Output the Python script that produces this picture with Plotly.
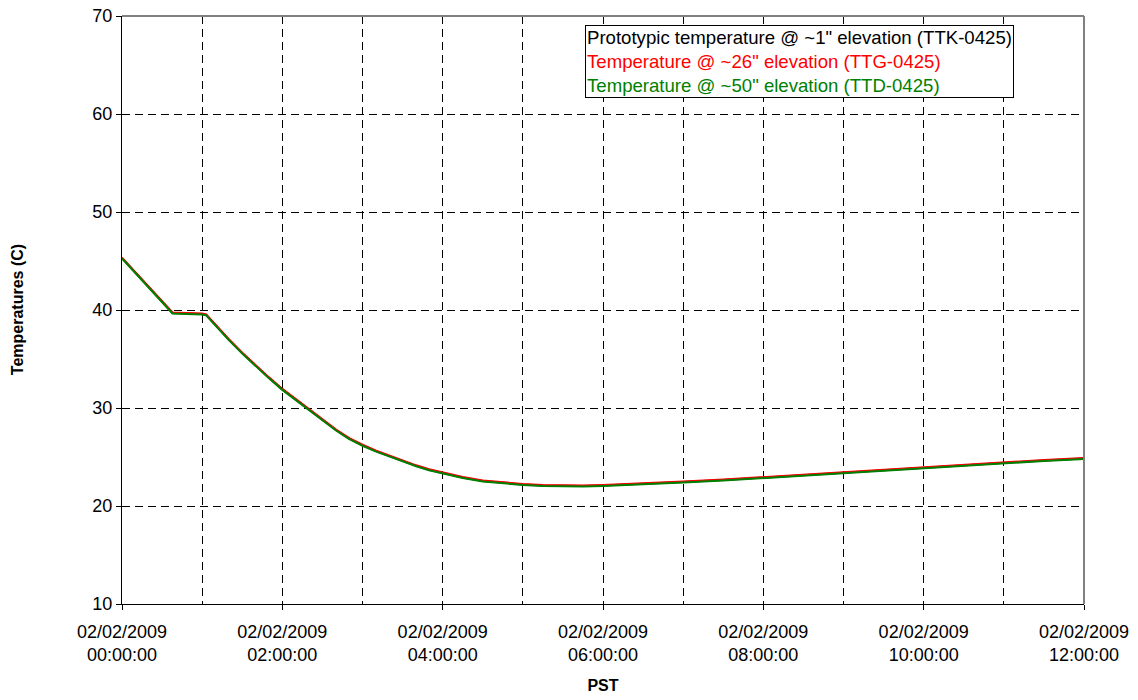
import plotly.graph_objects as go

# Sample times (hours after 02/02/2009 00:00:00 PST)
hours = [0.0, 0.1, 0.2, 0.3, 0.4, 0.5, 0.63, 0.8, 1.0, 1.05, 1.17, 1.33, 1.5,
         1.67, 1.83, 2.0, 2.17, 2.33, 2.5, 2.67, 2.83, 3.0, 3.17, 3.33, 3.5,
         3.67, 3.83, 4.0, 4.25, 4.5, 4.75, 5.0, 5.25, 5.5, 5.75, 6.0, 6.5,
         7.0, 7.5, 8.0, 8.5, 9.0, 9.5, 10.0, 10.5, 11.0, 11.5, 12.0]

# TTK-0425, ~1" elevation
ttk = [45.3, 44.4, 43.5, 42.6, 41.7, 40.8, 39.7, 39.65, 39.6, 39.5, 38.4, 37.0,
       35.6, 34.3, 33.1, 31.9, 30.85, 29.8, 28.75, 27.75, 26.9, 26.2, 25.6,
       25.1, 24.6, 24.1, 23.7, 23.35, 22.9, 22.55, 22.35, 22.2, 22.1, 22.05,
       22.05, 22.1, 22.25, 22.45, 22.65, 22.9, 23.15, 23.4, 23.7, 23.95, 24.2,
       24.45, 24.65, 24.85]

# TTG-0425, ~26" elevation
ttg = [45.35, 44.45, 43.55, 42.65, 41.75, 40.85, 39.75, 39.7, 39.65, 39.55,
       38.45, 37.05, 35.65, 34.35, 33.15, 31.95, 30.9, 29.85, 28.8, 27.8,
       26.95, 26.25, 25.65, 25.15, 24.65, 24.15, 23.75, 23.4, 22.95, 22.6,
       22.4, 22.25, 22.15, 22.1, 22.1, 22.15, 22.3, 22.5, 22.7, 22.95, 23.2,
       23.45, 23.75, 24.0, 24.25, 24.5, 24.7, 24.9]

# TTD-0425, ~50" elevation
ttd = [45.25, 44.35, 43.45, 42.55, 41.65, 40.75, 39.65, 39.6, 39.55, 39.45,
       38.35, 36.95, 35.55, 34.25, 33.05, 31.85, 30.8, 29.75, 28.7, 27.7,
       26.85, 26.15, 25.55, 25.05, 24.55, 24.05, 23.65, 23.3, 22.85, 22.5,
       22.3, 22.15, 22.05, 22.0, 22.0, 22.05, 22.2, 22.4, 22.6, 22.85, 23.1,
       23.35, 23.65, 23.9, 24.15, 24.4, 24.6, 24.8]

tick_hours = [0, 2, 4, 6, 8, 10, 12]


def stamp(h):
    total = int(round(h * 3600))
    hh, rem = divmod(total, 3600)
    mm, ss = divmod(rem, 60)
    return f"2009-02-02 {hh:02d}:{mm:02d}:{ss:02d}"


times = [stamp(h) for h in hours]
tick_vals = [stamp(h) for h in tick_hours]
tick_text = [f"02/02/2009<br>{h:02d}:00:00" for h in tick_hours]

series = [
    ("Prototypic temperature @ ~1\" elevation (TTK-0425)", ttk, "#000000"),
    ("Temperature @ ~26\" elevation (TTG-0425)", ttg, "#FF0000"),
    ("Temperature @ ~50\" elevation (TTD-0425)", ttd, "#008000"),
]

FONT = "Liberation Sans, Arial, sans-serif"

fig = go.Figure()
for name, vals, color in series:
    fig.add_trace(go.Scatter(x=times, y=vals, mode="lines", name=name,
                             line=dict(color=color, width=2),
                             showlegend=False))

# Boxed key with coloured series names
legend_html = "<br>".join(
    f"<span style='color:{c}'>{n}</span>" for n, _, c in series)
fig.add_annotation(
    xref="paper", yref="paper", x=0.4813, y=0.985,
    xanchor="left", yanchor="top", align="left",
    text=legend_html, showarrow=False,
    font=dict(family=FONT, size=18.6, color="#000000"),
    bordercolor="#000000", borderwidth=1, bgcolor="#FFFFFF", borderpad=1,
)

# Vertical axis title
fig.add_annotation(
    xref="paper", yref="paper", x=-0.109, y=0.5,
    xanchor="center", yanchor="middle", textangle=-90,
    text="<b>Temperatures (C)</b>", showarrow=False,
    font=dict(family=FONT, size=16, color="#000000"),
)

dash = "8px,5px"

fig.update_layout(
    width=1138, height=700,
    margin=dict(l=122, r=54, t=16, b=96),
    paper_bgcolor="#FFFFFF", plot_bgcolor="#FFFFFF",
    font=dict(family=FONT, size=18, color="#000000"),
    xaxis=dict(
        type="date",
        range=[stamp(0), stamp(12)],
        tickvals=tick_vals, ticktext=tick_text,
        ticks="outside", ticklen=5, tickcolor="#000000",
        ticklabelstandoff=6,
        showline=True, linecolor="#000000", linewidth=1, mirror=False,
        showgrid=True, gridcolor="#000000", gridwidth=1, griddash=dash,
        minor=dict(dtick=3600000, showgrid=True, gridcolor="#000000",
                   griddash=dash, gridwidth=1, ticks=""),
        title=dict(text="<b>PST</b>", font=dict(size=16)),
        automargin=False,
        zeroline=False,
    ),
    yaxis=dict(
        range=[10, 70], dtick=10,
        ticks="outside", ticklen=5, tickcolor="#000000",
        showline=True, linecolor="#000000", linewidth=1,
        showgrid=True, gridcolor="#000000", gridwidth=1, griddash=dash,
        automargin=False,
        zeroline=False,
    ),
)

# Grey frame on the top and right edges of the plot area
fig.add_shape(type="line", xref="paper", yref="paper", x0=0, x1=1, y0=1, y1=1,
              line=dict(color="#808080", width=2))
fig.add_shape(type="line", xref="paper", yref="paper", x0=1, x1=1, y0=0, y1=1,
              line=dict(color="#808080", width=2))

fig.write_html("out.html")
